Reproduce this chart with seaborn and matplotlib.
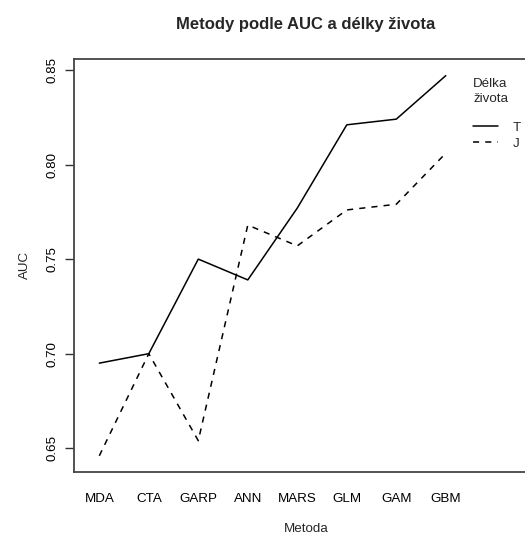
import matplotlib
matplotlib.use("Agg")
import matplotlib.pyplot as plt
import seaborn as sns
import pandas as pd

methods = ["MDA", "CTA", "GARP", "ANN", "MARS", "GLM", "GAM", "GBM"]
auc_T = [0.695, 0.700, 0.750, 0.739, 0.777, 0.821, 0.824, 0.847]
auc_J = [0.646, 0.700, 0.654, 0.768, 0.757, 0.776, 0.779, 0.806]
groups = ["T", "J"]
yticks = [0.65, 0.70, 0.75, 0.80, 0.85]

title = "Metody podle AUC a délky života"
xlabel = "Metoda"
ylabel = "AUC"
legend_title = "Délka\nživota"

rows = []
for g, vals in zip(groups, [auc_T, auc_J]):
    for i, (m, v) in enumerate(zip(methods, vals)):
        rows.append({"pos": i, "Metoda": m, "AUC": v, "Délka": g})
df = pd.DataFrame(rows)

sns.set_style("white")
plt.rcParams["font.family"] = ["Liberation Sans", "DejaVu Sans"]

FS = 9.6
W, H = 525, 538
fig = plt.figure(figsize=(W / 100, H / 100), dpi=100)
left, right, top, bottom = 74.3, 538.0, 59.0, 471.7
ax = fig.add_axes([left / W, (H - bottom) / H, (right - left) / W, (bottom - top) / H])

sns.lineplot(data=df, x="pos", y="AUC", style="Délka", style_order=groups,
             dashes={"T": "", "J": (4, 4)}, color="black", linewidth=1.1,
             ax=ax, legend=True)

ax.set_xlim(-0.505, 8.863)
ax.set_ylim(0.6376, 0.8558)
ax.set_xticks(range(len(methods)))
ax.set_xticklabels(methods)
ax.set_yticks(yticks)
ax.set_yticklabels([f"{v:.2f}" for v in yticks], rotation=90, va="center")
ax.tick_params(axis="x", length=0, pad=15, labelsize=FS, colors="black")
ax.tick_params(axis="y", left=True, length=6.5, width=1.0, color="#333333",
               pad=5, labelsize=FS, labelcolor="black")
for s in ["left", "bottom", "top", "right"]:
    ax.spines[s].set_color("#444444")
    ax.spines[s].set_linewidth(1.3)
ax.set_xlabel(xlabel, fontsize=FS, labelpad=13.5)
ax.set_ylabel(ylabel, fontsize=FS, labelpad=11)
ax.grid(False)

fig.text(306 / W, 1 - 25 / H, title, ha="center", va="center",
         fontsize=12, fontweight="bold")

# legend title (left aligned, two lines)
fig.text(473 / W, 1 - 78 / H, legend_title, ha="left", va="top",
         fontsize=FS, linespacing=1.35)

handles, labels = ax.get_legend_handles_labels()
leg = ax.legend(handles, labels, frameon=False,
                loc="upper left",
                bbox_to_anchor=((473 - left) / (right - left), (bottom - 121.5) / (bottom - top)),
                fontsize=FS, handlelength=1.9, borderpad=0,
                handletextpad=1.1, labelspacing=0.26, borderaxespad=0)

fig.savefig("out.png", dpi=100)
